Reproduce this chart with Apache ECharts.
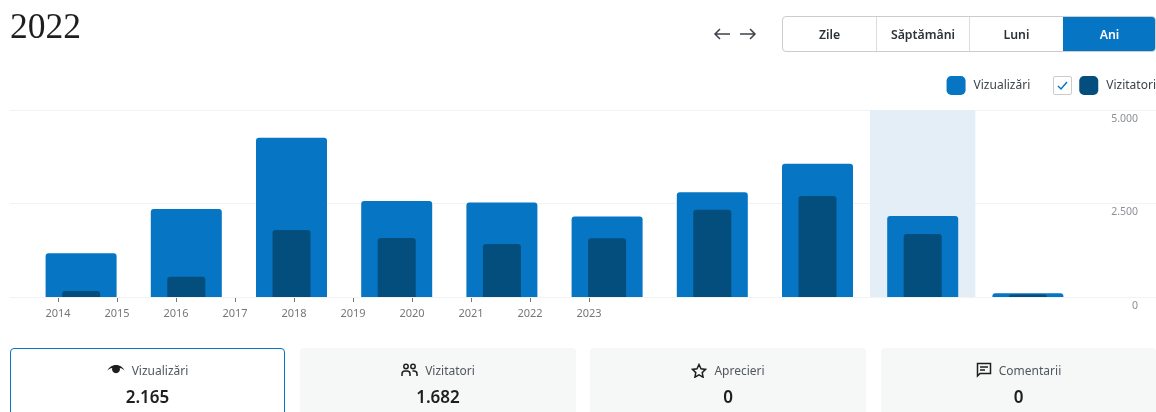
<!DOCTYPE html>
<html lang="ro">
<head>
<meta charset="utf-8">
<style>
html,body{margin:0;padding:0;background:#fff;overflow:hidden;width:1156px;height:412px;font-family:"Noto Sans","Open Sans",sans-serif;}
#chart{position:absolute;left:0;top:0;width:1156px;height:412px;}
.abs{position:absolute;}
#title{left:10px;top:4px;font-family:"Liberation Serif",serif;font-size:35.500px;line-height:44px;color:#1e1e1e;}
#arrows{left:713px;top:26px;}
#seg{left:782px;top:16px;width:374px;height:36px;box-sizing:border-box;border:1px solid #ccc;border-radius:4px;display:flex;background:#fff;overflow:hidden;}
#seg div{position:absolute;top:0;bottom:0;display:flex;align-items:center;justify-content:center;font-size:12.300px;font-weight:600;color:#2c3338;box-sizing:border-box;border-left:1px solid #ddd;}
#seg div:first-child{border-left:none;}
#seg div.on{background:#0675c4;color:#fff;border-left:none;}
#check{left:1053px;top:76px;width:19px;height:19px;box-sizing:border-box;border:1px solid #ccc;border-radius:2px;background:#fff;}
.card{top:348px;height:80px;box-sizing:border-box;background:#f6f7f7;border-radius:4px;text-align:center;}
.card.on{background:#fff;border:1px solid #0675c4;}
.card .lab{position:absolute;left:0;right:0;top:12px;height:20px;display:flex;align-items:center;justify-content:center;gap:7px;font-size:12px;color:#50575e;}
.card .val{position:absolute;left:0;right:0;top:36px;font-size:17px;line-height:26px;font-weight:600;color:#1e1e1e;}
.card.on .lab{top:11px;}
.card.on .val{top:35px;}
</style>
</head>
<body>
<div id="chart"></div>
<div class="abs" id="title">2022</div>
<svg class="abs" id="arrows" width="44" height="16" viewBox="0 0 44 16" fill="none" stroke="#3c434a" stroke-width="1.5">
  <path d="M17 8H2M7 3L2 8L7 13"/><path d="M27 8H42M37 3L42 8L37 13"/>
</svg>
<div class="abs" id="seg"><div style="left:0;width:93px">Zile</div><div style="left:93px;width:93px">Săptămâni</div><div style="left:186px;width:94px">Luni</div><div class="on" style="left:280px;width:93px">Ani</div></div>
<div class="abs" id="check"><svg width="17" height="17" viewBox="0 0 17 17" fill="none" stroke="#0675c4" stroke-width="1.5"><path d="M4 9l3 3l6-7"/></svg></div>

<div class="abs card on" style="left:10px;width:275px;"><div class="lab">
<svg width="18" height="12" viewBox="0 0 18 12"><path fill="#1e1e1e" d="M9 1C5 1 2 3.4 .5 6.5 2 5 3.6 4.2 5.2 3.9A4 4 0 1 0 12.800 3.900C14.400 4.200 16 5 17.500 6.500 16 3.400 13 1 9 1Z"/></svg>
<span>Vizualizări</span></div><div class="val">2.165</div></div>
<div class="abs card" style="left:300px;width:276px;"><div class="lab">
<svg width="17" height="14" viewBox="0 0 17 14" fill="none" stroke="#1e1e1e" stroke-width="1.5"><circle cx="5" cy="3.500" r="2.200"/><circle cx="12" cy="3.500" r="2.200"/><path d="M1 13V11a3 3 0 0 1 3-3h2a3 3 0 0 1 3 3v2M11.500 8h1.500a3 3 0 0 1 3 3v2"/></svg>
<span>Vizitatori</span></div><div class="val">1.682</div></div>
<div class="abs card" style="left:590px;width:276px;"><div class="lab">
<svg width="16" height="15" viewBox="0 0 16 15" fill="none" stroke="#1e1e1e" stroke-width="1.5"><path d="M8 1.500l2 4.300 4.600.6-3.400 3.200.9 4.600L8 11.900 3.900 14.200l.9-4.600L1.400 6.400 6 5.800Z"/></svg>
<span>Aprecieri</span></div><div class="val">0</div></div>
<div class="abs card" style="left:881px;width:275px;"><div class="lab">
<svg width="16" height="16" viewBox="0 0 16 16" fill="none" stroke="#1e1e1e" stroke-width="1.500"><path d="M1.500 1.500h13v10H4l-2.500 2.500Z"/><path d="M4 5h8M4 8h5"/></svg>
<span>Comentarii</span></div><div class="val">0</div></div>

<script src="https://cdn.jsdelivr.net/npm/echarts@6/dist/echarts.min.js"></script>
<script>
const years = ['2014','2015','2016','2017','2018','2019','2020','2021','2022','2023'];
const views = [1170, 2350, 4260, 2570, 2530, 2150, 2800, 3560, 2165, 100];
const visitors = [160, 540, 1790, 1580, 1420, 1570, 2330, 2700, 1682, 70];
const selectedBand = [null, null, null, null, null, null, null, null, 5000, null];
const yTicks = [0, 2500, 5000];

const hiddenCat = {type:'category', gridIndex:0, data:years, show:false};
const chart = echarts.init(document.getElementById('chart'));
chart.setOption({
  animation:false,
  textStyle:{fontFamily:'"Noto Sans","Open Sans",sans-serif'},
  legend:{
    right:-5, top:71, itemWidth:19, itemHeight:19, itemGap:49, icon:'roundRect', selectedMode:false,
    textStyle:{fontSize:12, color:'#3c434a', padding:[0,0,0,3]},
    data:['Vizualizări','Vizitatori']
  },
  grid:[
    {left:28.500, top:110, width:1052, height:187},
    {left:58, top:110, width:531, height:187},
    {left:10, top:110, width:1146, height:187}
  ],
  xAxis:[
    {...hiddenCat}, {...hiddenCat}, {...hiddenCat},
    {type:'category', gridIndex:1, data:years, boundaryGap:false, position:'bottom',
      axisLine:{show:false},
      axisTick:{show:true, length:5, alignWithLabel:true, lineStyle:{color:'#777'}},
      axisLabel:{show:true, interval:0, margin:11, fontSize:11, color:'#777'}},
    {type:'category', gridIndex:2, data:years, show:false}
  ],
  yAxis:[
    {type:'value', gridIndex:0, min:0, max:5000, interval:2500, show:false},
    {type:'value', gridIndex:1, min:0, max:5000, interval:2500, show:false},
    {type:'value', gridIndex:2, min:0, max:5000, interval:2500, position:'right', z:1,
      axisLine:{show:false}, axisTick:{show:false},
      splitLine:{show:true, lineStyle:{color:'#f2f2f2'}},
      axisLabel:{show:true, inside:true, margin:18, fontSize:10.500, color:'#8c8f94', verticalAlign:'top', lineHeight:18,
        formatter:v => yTicks.includes(v) ? String(v).replace(/\B(?=(\d{3})+$)/g,'.') : ''}}
  ],
  series:[
    {name:'Selectat', type:'bar', xAxisIndex:0, yAxisIndex:0, data:selectedBand, barWidth:'100%', z:2,
      itemStyle:{color:'#e4eef7'}, silent:true},
    {name:'Vizualizări', type:'bar', xAxisIndex:1, yAxisIndex:0, data:views, barWidth:71, z:3,
      itemStyle:{color:'#0675c4', borderRadius:[3,3,0,0]}},
    {name:'Vizitatori', type:'bar', xAxisIndex:2, yAxisIndex:0, data:visitors, barWidth:38, z:4,
      itemStyle:{color:'#044e7e', borderRadius:[3,3,0,0]}}
  ]
});
</script>
</body>
</html>
